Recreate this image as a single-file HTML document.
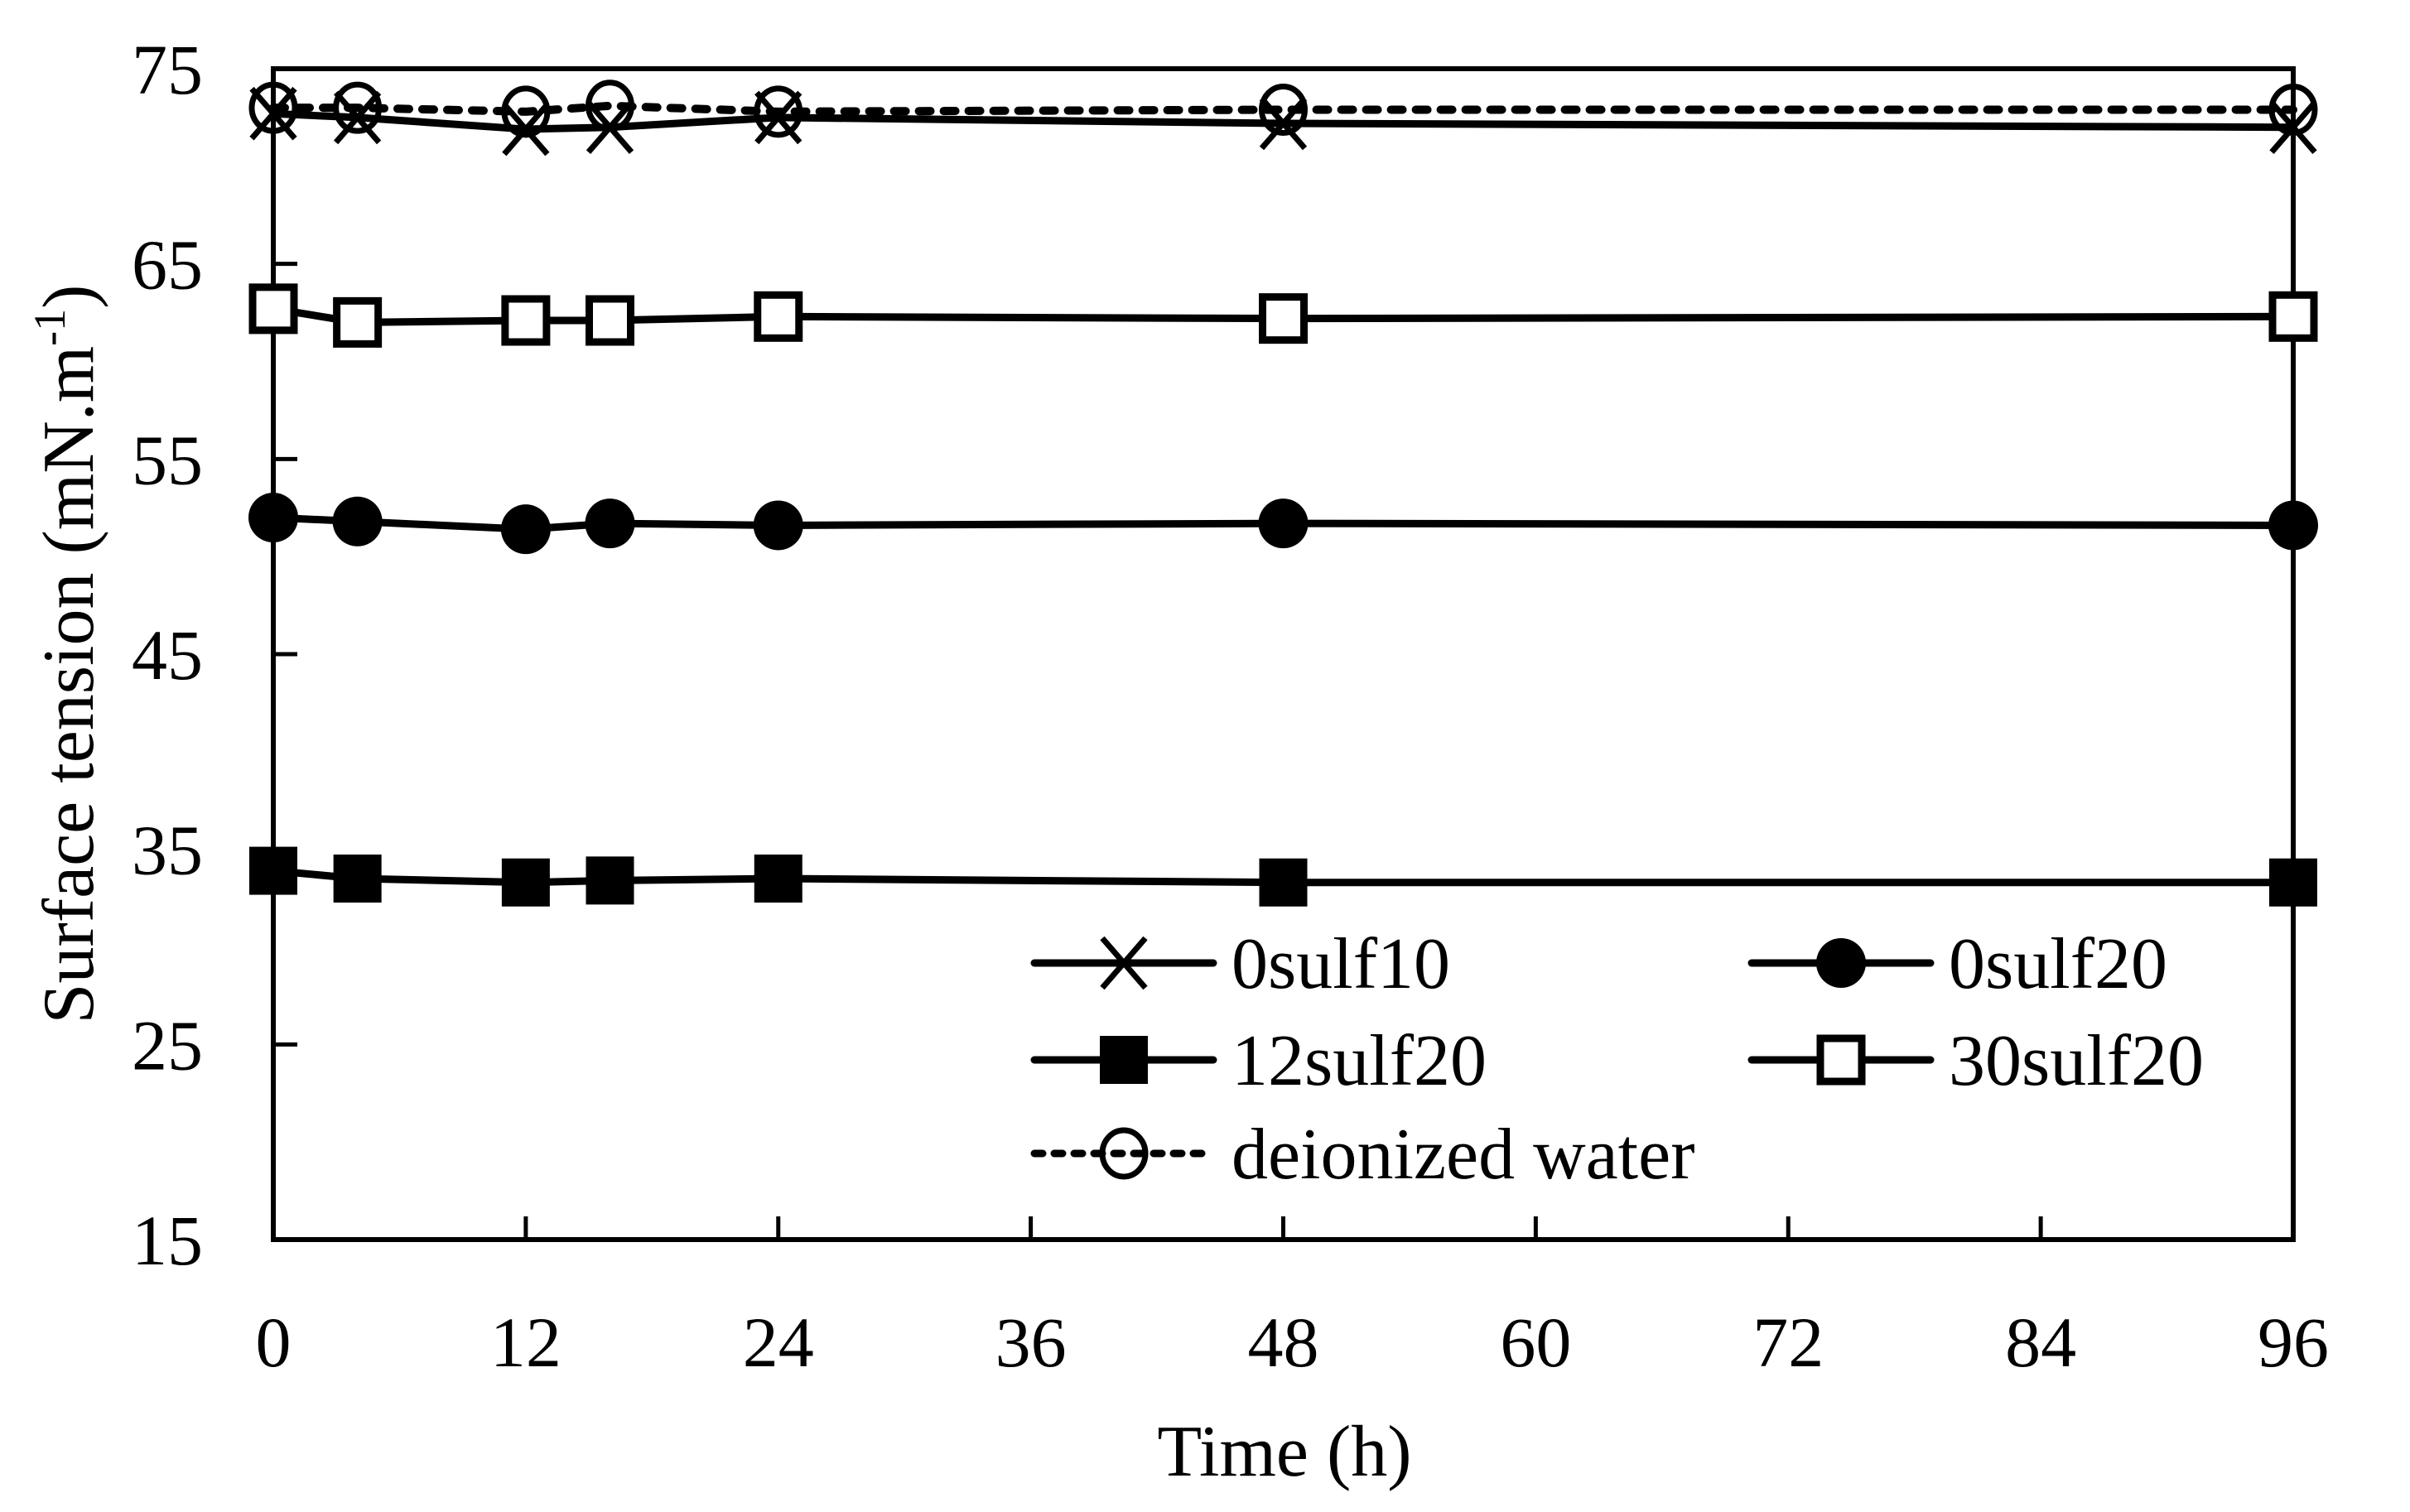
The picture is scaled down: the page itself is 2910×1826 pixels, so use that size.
<!DOCTYPE html>
<html><head><meta charset="utf-8"><style>
html,body{margin:0;padding:0;background:#fff;}
svg{display:block;font-family:"Liberation Serif",serif;}
</style></head><body>
<svg id="chart" width="2910" height="1826" viewBox="0 0 2910 1826" xmlns="http://www.w3.org/2000/svg">
<rect width="2910" height="1826" fill="#fff"/>
<g id="axes"></g><g id="series"></g><g id="legend"></g>
<text x="1551" y="1782" font-size="88" text-anchor="middle">Time (h)</text>
<text transform="translate(112,790) rotate(-90)" font-size="88" text-anchor="middle">Surface tension (mN.m<tspan font-size="54" dy="-34">-1</tspan><tspan dy="34">)</tspan></text>
</svg>
<script>
const times = [0, 4, 12, 16, 24, 48, 96];
const s0sulf10 = [72.7, 72.5, 71.9, 72.0, 72.5, 72.2, 72.0];
const s0sulf20 = [52.0, 51.8, 51.4, 51.7, 51.6, 51.7, 51.6];
const s12sulf20 = [33.9, 33.5, 33.3, 33.4, 33.5, 33.3, 33.3];
const s30sulf20 = [62.7, 62.0, 62.1, 62.1, 62.3, 62.2, 62.3];
const sWater = [73.0, 73.0, 72.8, 73.1, 72.8, 72.9, 72.9];
const xTicks = [0, 12, 24, 36, 48, 60, 72, 84, 96];
const yTicks = [15, 25, 35, 45, 55, 65, 75];

const NS = "http://www.w3.org/2000/svg";
const X0 = 330, X1 = 2769, Y0 = 1497, Y1 = 83;
const xs = t => X0 + (t - 0) / 96 * (X1 - X0);
const ys = v => Y0 - (v - 15) / 60 * (Y0 - Y1);
function mk(tag, attrs, parent) {
  const e = document.createElementNS(NS, tag);
  for (const k in attrs) e.setAttribute(k, attrs[k]);
  parent.appendChild(e);
  return e;
}
const axes = document.getElementById('axes');
const frame = mk('rect', {x: X0, y: Y1, width: X1 - X0, height: Y0 - Y1, fill: 'none', stroke: '#000', 'stroke-width': 6}, axes);


yTicks.forEach(v => {
  const tk = mk('line', {x1: X0, x2: X0 + 29, y1: ys(v), y2: ys(v), stroke: '#000', 'stroke-width': 5}, axes);
  
  
  const t = mk('text', {x: 245, y: ys(v) + 30, 'font-size': 86, 'text-anchor': 'end'}, axes);
  t.textContent = v;
  
  
});
xTicks.forEach(v => {
  const tk = mk('line', {x1: xs(v), x2: xs(v), y1: Y0, y2: Y0 - 28, stroke: '#000', 'stroke-width': 5}, axes);
  
  
  const t = mk('text', {x: xs(v), y: 1650, 'font-size': 86, 'text-anchor': 'middle'}, axes);
  t.textContent = v;
  
  
});

function marker(type, cx, cy, g) {
  let e;
  if (type === 'x') {
    e = mk('path', {d: `M${cx-26},${cy-30}L${cx+26},${cy+30}M${cx+26},${cy-30}L${cx-26},${cy+30}`, stroke: '#000', 'stroke-width': 7, fill: 'none'}, g);
  } else if (type === 'dot') {
    e = mk('circle', {cx, cy, r: 30, fill: '#000'}, g);
  } else if (type === 'fsq') {
    e = mk('rect', {x: cx - 29, y: cy - 29, width: 58, height: 58, fill: '#000'}, g);
  } else if (type === 'osq') {
    e = mk('rect', {x: cx - 25, y: cy - 26, width: 50, height: 52, fill: '#fff', stroke: '#000', 'stroke-width': 9}, g);
  } else {
    e = mk('ellipse', {cx, cy, rx: 26, ry: 28, fill: 'none', stroke: '#000', 'stroke-width': 7}, g);
  }
  return e;
}
const seriesDefs = [
  {name: '0sulf10', vals: s0sulf10, m: 'x', dash: null},
  {name: '0sulf20', vals: s0sulf20, m: 'dot', dash: null},
  {name: '12sulf20', vals: s12sulf20, m: 'fsq', dash: null},
  {name: '30sulf20', vals: s30sulf20, m: 'osq', dash: null},
  {name: 'deionized water', vals: sWater, m: 'oc', dash: '14 16'}
];
const sg = document.getElementById('series');
seriesDefs.forEach(s => {
  const g = mk('g', {}, sg);
  
  
  const pts = times.map((t, i) => xs(t) + ',' + ys(s.vals[i])).join(' ');
  const ln = mk('polyline', {points: pts, fill: 'none', stroke: '#000', 'stroke-width': s.dash ? 10 : 9, 'stroke-linecap': s.dash ? 'round' : 'butt'}, g);
  if (s.dash) ln.setAttribute('stroke-dasharray', s.dash);
  
  
  times.forEach((t, i) => {
    const p = marker(s.m, xs(t), ys(s.vals[i]), g);
    
    
  });
});
const lg = document.getElementById('legend');
const legPos = [[1249, 1163], [2115, 1163], [1249, 1280], [2115, 1280], [1249, 1393]];
seriesDefs.forEach((s, i) => {
  const [lx, ly] = legPos[i];
  const g = mk('g', {}, lg);
  
  
  const ln = mk('line', {x1: lx, x2: lx + 216, y1: ly, y2: ly, stroke: '#000', 'stroke-width': 9, 'stroke-linecap': 'round'}, g);
  if (s.dash) ln.setAttribute('stroke-dasharray', '10 14');
  marker(s.m, lx + 108, ly, g);
  const t = mk('text', {x: lx + 238, y: ly + 30, 'font-size': 88}, g);
  t.textContent = s.name;
});
</script>
</body></html>
